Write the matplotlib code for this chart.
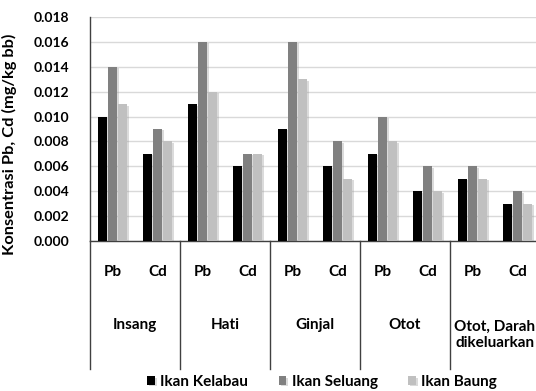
import matplotlib
matplotlib.use("Agg")
import matplotlib.pyplot as plt
import matplotlib.patheffects as pe
from matplotlib.ticker import FormatStrFormatter
import numpy as np

plt.rcParams['font.family'] = ['Lato', 'DejaVu Sans']
plt.rcParams['font.weight'] = 'bold'

organs = ["Insang", "Hati", "Ginjal", "Otot", "Otot, Darah\ndikeluarkan"]
metals = ["Pb", "Cd"]
series = ["Ikan Kelabau", "Ikan Seluang", "Ikan Baung"]
colors = ["#000000", "#808080", "#c0c0c0"]

# values per organ as [Pb, Cd]
kelabau = [0.010, 0.007, 0.011, 0.006, 0.009, 0.006, 0.007, 0.004, 0.005, 0.003]
seluang = [0.014, 0.009, 0.016, 0.007, 0.016, 0.008, 0.010, 0.006, 0.006, 0.004]
baung   = [0.011, 0.008, 0.012, 0.007, 0.013, 0.005, 0.008, 0.004, 0.005, 0.003]

W, H = 536, 391
fig = plt.figure(figsize=(W / 100, H / 100), dpi=100)
left_px, right_px, top_px, bottom_px = 90, 540, 17, 241
ax = fig.add_axes([left_px / W, 1 - bottom_px / H,
                   (right_px - left_px) / W, (bottom_px - top_px) / H])

x = np.arange(len(kelabau))
bw = 0.205
shadow = [pe.SimplePatchShadow(offset=(1.5, -1.0), shadow_rgbFace='#9a9a9a', alpha=0.35),
          pe.Normal()]
for k, (vals, c, name) in enumerate(zip([kelabau, seluang, baung], colors, series)):
    bars = ax.bar(x + (k - 1) * (bw + 0.02), vals, width=bw, color=c, label=name,
                  zorder=3, linewidth=0)
    for b in bars:
        b.set_path_effects(shadow)

ax.set_xlim(-0.5, len(kelabau) - 0.5)
ax.set_ylim(0, 0.018)
ax.set_yticks(np.arange(0, 0.0181, 0.002))
ax.yaxis.set_major_formatter(FormatStrFormatter('%.3f'))
ax.tick_params(axis='y', length=0, labelsize=10, pad=15)
ax.tick_params(axis='x', length=0, labelbottom=False)
ax.grid(axis='y', color='#d9d9d9', linewidth=1.0, zorder=0)
for s in ['top', 'right']:
    ax.spines[s].set_visible(False)
ax.spines['left'].set_color('#404040')
ax.spines['bottom'].set_color('#404040')
ax.spines['left'].set_linewidth(1.0)
ax.spines['bottom'].set_linewidth(1.0)
for lab in ax.get_yticklabels():
    lab.set_fontweight('bold')

ax.set_ylabel("Konsentrasi Pb, Cd (mg/kg bb)", fontsize=11.8, fontweight='bold')
axh = bottom_px - top_px
axw = right_px - left_px
ax.yaxis.set_label_coords((17 - left_px) / axw, (bottom_px - 144) / axh)

tr = ax.get_xaxis_transform()
def ay(py):
    return -(py - bottom_px) / axh

# category separators below the axis
for g in range(len(organs) + 1):
    xs = g * 2 - 0.5
    ax.plot([xs, xs], [0, ay(369)], color='#404040', lw=1.0, transform=tr, clip_on=False)

for i in range(len(kelabau)):
    ax.text(i, ay(272), metals[i % 2], transform=tr, ha='center', va='center',
            fontsize=11, fontweight='bold')
for g, name in enumerate(organs):
    yy = ay(335) if "\n" in name else ay(325)
    ax.text(g * 2 + 0.5, yy, name, transform=tr, ha='center', va='center',
            fontsize=11, fontweight='bold', linespacing=1.2)

leg = fig.legend(loc='center', bbox_to_anchor=(322 / W, 1 - 382 / H), ncol=3,
                 frameon=False, fontsize=11, handlelength=0.5, handleheight=0.5,
                 handletextpad=0.35, columnspacing=2.0, borderpad=0)
for t in leg.get_texts():
    t.set_fontweight('bold')

fig.savefig("out.png", dpi=100)
